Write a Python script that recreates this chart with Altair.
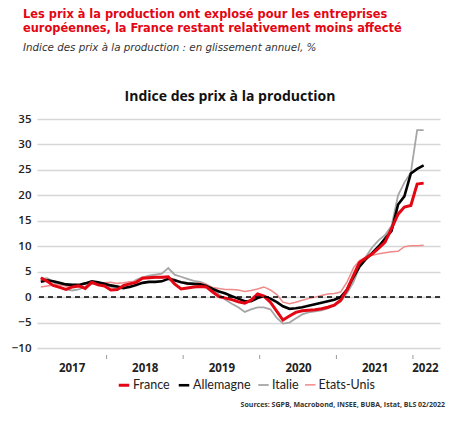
import altair as alt
import pandas as pd

# ---------------- data ----------------
months = pd.date_range("2017-01-01", "2022-01-01", freq="MS").strftime("%Y-%m-%d").tolist()

france = [3.8, 3.1, 2.3, 1.9, 1.5, 2.0, 2.2, 1.7, 2.9, 2.4, 2.2, 1.4,
          1.5, 2.3, 2.6, 2.9, 3.7, 3.8, 3.9, 3.9, 4.0, 2.6, 1.6, 1.8,
          2.0, 2.1, 2.0, 1.0, 0.1, -0.2, -0.5, -0.9, -1.2, -0.6, 0.6, 0.2,
          -1.0, -2.8, -4.5, -3.7, -3.0, -2.7, -2.6, -2.5, -2.3, -2.0, -1.6, -0.6,
          1.5, 4.3, 6.8, 7.7, 8.5, 9.6, 10.8, 13.5, 16.3, 17.7, 18.0, 22.2,
          22.4]
allemagne = [3.0, 3.3, 3.1, 2.8, 2.5, 2.4, 2.4, 2.7, 3.1, 2.9, 2.6, 2.3,
             2.1, 1.8, 2.0, 2.4, 2.8, 3.0, 3.0, 3.1, 3.6, 3.3, 2.9, 2.7,
             2.6, 2.5, 2.2, 1.6, 1.1, 0.7, 0.2, -0.3, -0.8, -0.8, -0.2, 0.2,
             -0.3, -1.0, -1.8, -2.3, -2.2, -2.0, -1.7, -1.4, -1.1, -0.8, -0.5, 0.0,
             1.5, 4.0, 6.0, 7.5, 8.7, 10.0, 11.5, 13.0, 18.2, 19.8, 24.3, 25.2,
             25.9]
italie = [3.6, 3.7, 3.0, 2.0, 1.5, 1.3, 1.5, 2.0, 2.6, 2.8, 2.6, 2.0,
          1.8, 1.6, 2.4, 3.4, 3.9, 4.2, 4.4, 4.6, 5.7, 4.4, 4.0, 3.6,
          3.2, 3.0, 2.5, 1.5, 0.5, -0.5, -1.3, -2.0, -2.9, -2.4, -2.0, -2.0,
          -2.4, -4.1, -5.2, -5.0, -4.2, -3.4, -3.0, -2.8, -2.6, -2.2, -1.6, -0.9,
          0.8, 3.0, 6.0, 8.0, 9.8, 11.2, 12.2, 14.0, 20.0, 22.5, 24.5, 32.8,
          32.8]
etats_unis = [2.0, 2.2, 2.4, 2.4, 2.2, 2.0, 2.3, 2.6, 2.8, 2.6, 2.8, 2.9,
              2.7, 2.8, 3.0, 3.1, 3.9, 3.9, 3.8, 3.8, 3.8, 3.5, 2.9, 2.5,
              2.6, 2.8, 2.5, 1.9, 1.7, 1.5, 1.5, 1.4, 1.1, 1.3, 1.6, 2.0,
              1.4, 0.5, -1.0, -1.3, -1.0, -0.6, -0.3, 0.0, 0.3, 0.6, 0.7, 1.0,
              3.0, 5.8, 7.2, 7.9, 8.2, 8.5, 8.7, 8.9, 9.0, 9.9, 10.1, 10.1,
              10.2]

series_names = ["France", "Allemagne", "Italie", "Etats-Unis"]
series_colors = ["#e30613", "#000000", "#a6a6a6", "#f08a8a"]
series_widths = [3.0, 2.6, 1.8, 1.5]

y_ticks = [-10, -5, 0, 5, 10, 15, 20, 25, 30, 35]
year_labels = ["2017", "2018", "2019", "2020", "2021", "2022"]
year_label_dates = [(2017, 5, 28), (2018, 5, 12), (2019, 5, 12), (2020, 5, 12), (2021, 5, 12), (2022, 1, 7)]
tick_dates = ["2017-11-11", "2018-11-11", "2019-11-11", "2020-11-11", "2021-11-11"]

heading_1 = "Les prix à la production ont explosé pour les entreprises"
heading_2 = "européennes, la France restant relativement moins affecté"
subtitle = "Indice des prix à la production  : en glissement annuel,  %"
chart_title = "Indice des prix à la production"
source = "Sources: SGPB, Macrobond, INSEE, BUBA, Istat, BLS 02/2022"

# ---------------- table ----------------
draw_order = [("Italie", italie), ("Etats-Unis", etats_unis), ("Allemagne", allemagne), ("France", france)]
rows = []
for name, vals in draw_order:
    for d, v in zip(months, vals):
        rows.append({"date": d, "value": v, "series": name})
df = pd.DataFrame(rows)

W, H = 403, 229

x_scale = alt.Scale(domain=[alt.DateTime(year=2016, month=12, date=14, utc=True),
                            alt.DateTime(year=2022, month=3, date=20, utc=True)])
x_axis = alt.Axis(values=[alt.DateTime(year=y, month=m, date=d, utc=True) for y, m, d in year_label_dates],
                  labelExpr="utcFormat(datum.value, '%Y')", grid=False, domain=False, ticks=False,
                  labelPadding=14, labelFont="Open Sans", labelFontWeight="bold", labelFontSize=11.5,
                  labelColor="#222222", labelAngle=0, title=None, labelOverlap=False)
y_scale = alt.Scale(domain=[-10, 35], nice=False, zero=False)
y_axis = alt.Axis(values=y_ticks, grid=True, gridColor="#d6d6d6", gridWidth=1.5, domain=False,
                  ticks=False, labelPadding=6, labelFont="Open Sans", labelFontWeight=600,
                  labelFontSize=11.5, labelColor="#222222", title=None, labelOverlap=False,
                  labelFlush=False, tickCount=10)

legend = alt.Legend(title=None, orient="none", legendX=80, legendY=259, direction="horizontal",
                    symbolType="stroke", symbolSize=110, labelFont="Lato", labelFontSize=12.5,
                    labelColor="#222222", columnPadding=3, labelOffset=2)

lines = alt.Chart(df).mark_line().encode(
    x=alt.X("date:T", scale=x_scale, axis=x_axis),
    y=alt.Y("value:Q", scale=y_scale, axis=y_axis),
    color=alt.Color("series:N", scale=alt.Scale(domain=series_names, range=series_colors), legend=legend),
    strokeWidth=alt.StrokeWidth("series:N", scale=alt.Scale(type="ordinal", domain=series_names, range=series_widths), legend=legend),
)

zero = alt.Chart(pd.DataFrame({"v": [0]})).mark_rule(color="#000000", strokeDash=[5, 4], strokeWidth=1.5).encode(
    y=alt.Y("v:Q", scale=y_scale, axis=y_axis)
)

ticks = alt.Chart(pd.DataFrame({"d": tick_dates})).mark_rule(color="#9a9a9a", strokeWidth=1).encode(
    x=alt.X("d:T", scale=x_scale, axis=x_axis), y=alt.value(H + 7), y2=alt.value(H + 11)
)

def text_layer(txt, x, y, **kw):
    return alt.Chart(pd.DataFrame({"t": [txt]})).mark_text(**kw).encode(
        text="t:N", x=alt.value(x), y=alt.value(y)
    )

h1 = text_layer(heading_1, -14, -104, align="left", baseline="middle", font="DejaVu Sans",
                fontWeight="bold", fontSize=11.4, color="#e30613")
h2 = text_layer(heading_2, -14, -90, align="left", baseline="middle", font="DejaVu Sans",
                fontWeight="bold", fontSize=11.4, color="#e30613")
sub = text_layer(subtitle, -14, -71, align="left", baseline="middle", font="DejaVu Sans",
                 fontStyle="italic", fontSize=10.3, color="#333333")
ttl = text_layer(chart_title, 193, -22, align="center", baseline="middle", font="Open Sans",
                 fontWeight="bold", fontSize=14, color="#111111")
src = text_layer(source, 408, 286, align="right", baseline="middle", font="Open Sans",
                 fontWeight="bold", fontSize=7, color="#333333")

chart = alt.layer(lines, zero, ticks, h1, h2, sub, ttl, src).properties(
    width=W, height=H,
    autosize=alt.AutoSizeParams(type="none"),
    padding={"left": 37, "top": 119, "right": 20, "bottom": 73},
    background="white",
).configure_view(strokeWidth=0)

chart.save("out.html", embed_options={"renderer": "svg", "actions": False})
